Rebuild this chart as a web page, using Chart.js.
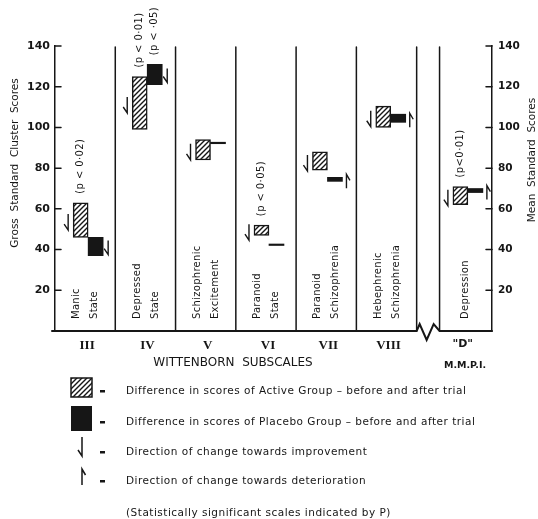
<!DOCTYPE html>
<html>
<head>
<meta charset="utf-8">
<script src="https://cdn.jsdelivr.net/npm/chart.js@4.4.1/dist/chart.umd.min.js"></script>
<style>
  body { margin: 0; background: #fff; }
  #wrap { width: 538px; height: 519px; }
</style>
</head>
<body>
<div id="wrap"><canvas id="myChart"></canvas></div>
<script>
// Wittenborn subscales III-VIII and the M.M.P.I. "D" scale
var scales = ['III', 'IV', 'V', 'VI', 'VII', 'VIII', '"D"'];
var scaleNames = [['Manic', 'State'], ['Depressed', 'State'], ['Schizophrenic', 'Excitement'],
  ['Paranoid', 'State'], ['Paranoid', 'Schizophrenia'], ['Hebephrenic', 'Schizophrenia'], ['Depression']];

// scores before and after trial (bar runs from before to after)
var activeBefore = [63, 125, 94, 52, 88, 110.5, 71];
var activeAfter = [46, 99, 84, 47, 79, 100, 62];
var placeboBefore = [46, 131, 92, 42, 73.5, 102.5, 68];
var placeboAfter = [37, 121, 92, 42, 75.5, 106.5, 70];

// significance notes
var activeP = ['(p < 0·02)', '(p < 0·01)', null, '(p < 0·05)', null, null, '(p<0·01)'];
var placeboP = [null, '(p < ·05)', null, null, null, null, null];

var yTicks = [20, 40, 60, 80, 100, 120, 140];

// x layout: one unit per subscale column, a break, then the "D" column
var groupPos = [0.55, 1.53, 2.58, 3.55, 4.52, 5.57, 6.85];
var columnEdges = [0, 1, 2, 3, 4, 5, 6, 6.38, 7.25];

var INK = '#161616';
var FONT = "'DejaVu Sans', sans-serif";

function makeHatch() {
  var c = document.createElement('canvas');
  c.width = 5; c.height = 5;
  var g = c.getContext('2d');
  g.fillStyle = '#fff';
  g.fillRect(0, 0, 5, 5);
  g.strokeStyle = INK;
  g.lineWidth = 1.4;
  g.beginPath();
  g.moveTo(-1, 6); g.lineTo(6, -1);
  g.moveTo(-1, 1); g.lineTo(1, -1);
  g.moveTo(4, 6); g.lineTo(6, 4);
  g.stroke();
  return g.createPattern(c, 'repeat');
}
var hatch = makeHatch();

// improvement: long stroke down, short barb into the foot from the left
function downArrow(ctx, x, yTop, len) {
  ctx.beginPath();
  ctx.moveTo(x, yTop);
  ctx.lineTo(x, yTop + len);
  ctx.lineTo(x - 4, yTop + len - 6);
  ctx.stroke();
}
// deterioration: long stroke up, short barb off the top to the right
function upArrow(ctx, x, yTop, len) {
  ctx.beginPath();
  ctx.moveTo(x, yTop + len);
  ctx.lineTo(x, yTop);
  ctx.lineTo(x + 3.5, yTop + 6);
  ctx.stroke();
}
function rotText(ctx, text, x, y, align) {
  ctx.save();
  ctx.translate(x, y);
  ctx.rotate(-Math.PI / 2);
  ctx.textAlign = align;
  ctx.textBaseline = 'middle';
  ctx.fillText(text, 0, 0);
  ctx.restore();
}

var paperPlugin = {
  id: 'paper',
  afterDraw: function(chart) {
    var ctx = chart.ctx, a = chart.chartArea, xs = chart.scales.x, ys = chart.scales.y;
    var px = function(v) { return xs.getPixelForValue(v); };
    ctx.save();
    ctx.strokeStyle = INK;
    ctx.fillStyle = INK;
    ctx.lineCap = 'round';

    // column dividers
    ctx.lineWidth = 1.5;
    for (var e = 1; e < columnEdges.length - 1; e++) {
      ctx.beginPath();
      ctx.moveTo(px(columnEdges[e]), a.top + 1);
      ctx.lineTo(px(columnEdges[e]), a.bottom);
      ctx.stroke();
    }
    // bottom line with the break
    var b1 = px(6), b2 = px(6.38);
    ctx.lineWidth = 2;
    ctx.beginPath();
    ctx.moveTo(a.left - 3, a.bottom);
    ctx.lineTo(b1, a.bottom);
    ctx.lineTo(b1 + 3, a.bottom - 7);
    ctx.lineTo(b1 + 10, a.bottom + 9);
    ctx.lineTo(b1 + 17, a.bottom - 7);
    ctx.lineTo(b2, a.bottom);
    ctx.lineTo(a.right, a.bottom);
    ctx.stroke();

    // inward tick marks on both axes
    ctx.lineWidth = 1.5;
    yTicks.forEach(function(v) {
      var y = ys.getPixelForValue(v);
      ctx.beginPath();
      ctx.moveTo(a.left, y); ctx.lineTo(a.left + 6, y);
      ctx.moveTo(a.right - 6, y); ctx.lineTo(a.right, y);
      ctx.stroke();
    });

    // direction arrows and p notes
    var act = chart.getDatasetMeta(0).data, pla = chart.getDatasetMeta(1).data;
    ctx.lineWidth = 1.4;
    ctx.lineCap = 'butt';
    ctx.font = '10px ' + FONT;
    ctx.letterSpacing = '0.4px';
    for (var i = 0; i < scales.length; i++) {
      var h = act[i], k = pla[i];
      var hTop = Math.min(h.y, h.base), hBot = Math.max(h.y, h.base);
      var hMid = (hTop + hBot) / 2;
      if (activeAfter[i] < activeBefore[i]) downArrow(ctx, h.x - h.width / 2 - 5, hMid - 6, 16);
      else if (activeAfter[i] > activeBefore[i]) upArrow(ctx, h.x - h.width / 2 - 5, hMid - 6, 14);
      var kTop = Math.min(k.y, k.base), kBot = Math.max(k.y, k.base);
      var kMid = (kTop + kBot) / 2;
      if (placeboAfter[i] < placeboBefore[i]) downArrow(ctx, k.x + k.width / 2 + 5, kMid - 6, 14);
      else if (placeboAfter[i] > placeboBefore[i]) upArrow(ctx, k.x + k.width / 2 + 4, kMid - 5, 14);
      if (activeP[i]) rotText(ctx, activeP[i], h.x, hTop - 9, 'left');
      if (placeboP[i]) rotText(ctx, placeboP[i], k.x, kTop - 9, 'left');
    }

    // subscale names inside the columns
    var colEdges = [[0, 1], [1, 2], [2, 3], [3, 4], [4, 5], [5, 6], [6.38, 7.25]];
    for (var c = 0; c < scales.length; c++) {
      var cx = (px(colEdges[c][0]) + px(colEdges[c][1])) / 2;
      var lines = scaleNames[c];
      ctx.font = '10px ' + FONT;
      ctx.letterSpacing = '0.3px';
      for (var l = 0; l < lines.length; l++) {
        var off = lines.length === 1 ? 0 : (l === 0 ? -8.5 : 9.5);
        rotText(ctx, lines[l], cx + off, a.bottom - 12, 'left');
      }
      // numerals under the columns
      ctx.letterSpacing = '0px';
      ctx.textAlign = 'center';
      ctx.textBaseline = 'middle';
      if (c < 6) {
        ctx.font = "bold 13px 'Liberation Serif', serif";
        ctx.fillText(scales[c], cx + 2, a.bottom + 15);
      } else {
        ctx.font = 'bold 11px ' + FONT;
        ctx.fillText(scales[c], cx - 3, a.bottom + 13);
      }
    }
    ctx.textAlign = 'center';
    ctx.textBaseline = 'middle';
    ctx.font = '12px ' + FONT;
    ctx.fillText('WITTENBORN  SUBSCALES', 233, a.bottom + 32);
    ctx.font = 'bold 9.5px ' + FONT;
    ctx.fillText('M.M.P.I.', 465, a.bottom + 35);

    // axis titles
    ctx.font = '10.5px ' + FONT;
    rotText(ctx, 'Gross  Standard  Cluster  Scores', 15, 163, 'center');
    rotText(ctx, 'Mean  Standard  Scores', 532, 160, 'center');

    // key
    ctx.fillStyle = hatch;
    ctx.fillRect(71, 378, 21, 19);
    ctx.lineWidth = 1.5;
    ctx.strokeRect(71, 378, 21, 19);
    ctx.fillStyle = INK;
    ctx.fillRect(71, 406, 21, 25);
    downArrow(ctx, 82, 437, 19);
    upArrow(ctx, 82, 469, 16);
    var keyText = ['Difference in scores of Active Group \u2013 before and after trial',
      'Difference in scores of Placebo Group \u2013 before and after trial',
      'Direction of change towards improvement',
      'Direction of change towards deterioration'];
    var keyY = [391, 422, 452, 481];
    ctx.textAlign = 'left';
    ctx.font = '10.5px ' + FONT;
    ctx.letterSpacing = '0.5px';
    for (var t = 0; t < keyText.length; t++) {
      ctx.fillRect(100, keyY[t] - 1, 5, 2.5);
      ctx.fillText(keyText[t], 126, keyY[t]);
    }
    ctx.fillText('(Statistically significant scales indicated by P)', 126, 513);
    ctx.restore();
  }
};

var ctx = document.getElementById('myChart');
new Chart(ctx, {
  type: 'bar',
  data: {
    datasets: [{
      label: 'Active Group',
      data: scales.map(function(s, i) { return { x: groupPos[i], y: [activeBefore[i], activeAfter[i]] }; }),
      backgroundColor: hatch,
      borderColor: INK,
      borderWidth: 1.5,
      borderSkipped: false,
      barThickness: 15
    }, {
      label: 'Placebo Group',
      data: scales.map(function(s, i) { return { x: groupPos[i], y: [placeboBefore[i], placeboAfter[i]] }; }),
      backgroundColor: INK,
      borderWidth: 0,
      barThickness: 15,
      minBarLength: 1.5
    }]
  },
  options: {
    responsive: true,
    maintainAspectRatio: false,
    animation: false,
    layout: { padding: { top: 46, bottom: 188, left: 0, right: 0 } },
    plugins: { legend: { display: false }, tooltip: { enabled: false } },
    scales: {
      x: { type: 'linear', min: 0, max: 7.25, offset: false, display: false },
      y: {
        position: 'left', min: 0, max: 140,
        grid: { display: false, drawTicks: false },
        border: { display: true, color: INK, width: 1.5 },
        ticks: { stepSize: 20, padding: 5, color: INK, font: { family: FONT, size: 11, weight: 'bold' },
          callback: function(v) { return v === 0 ? '' : v; } },
        afterFit: function(s) { s.width = 55; }
      },
      y2: {
        position: 'right', min: 0, max: 140,
        grid: { display: false, drawTicks: false },
        border: { display: true, color: INK, width: 1.5 },
        ticks: { stepSize: 20, padding: 6, color: INK, font: { family: FONT, size: 10.5, weight: 'bold' },
          callback: function(v) { return v === 0 ? '' : v; } },
        afterFit: function(s) { s.width = 46; }
      }
    }
  },
  plugins: [paperPlugin]
});
</script>
</body>
</html>
